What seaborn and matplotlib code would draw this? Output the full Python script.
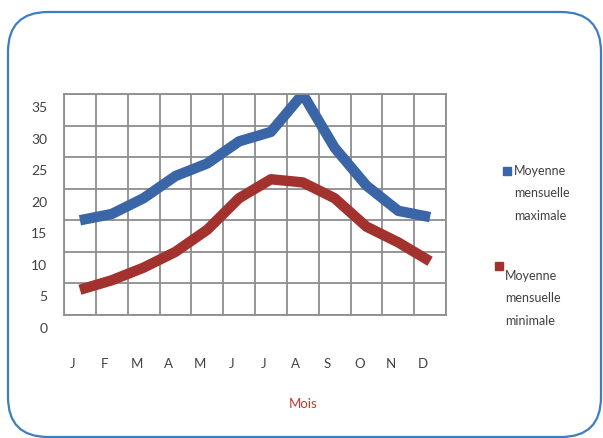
import matplotlib
matplotlib.use("Agg")
import matplotlib.pyplot as plt
from matplotlib.patches import FancyBboxPatch
from matplotlib.lines import Line2D
from matplotlib.transforms import ScaledTranslation, IdentityTransform
import seaborn as sns
import pandas as pd

# data
mois = ["J", "F", "M", "A", "M", "J", "J", "A", "S", "O", "N", "D"]
temp_max = [15, 16, 18.5, 22, 24, 27.5, 29, 35, 26.5, 20.5, 16.5, 15.5]
temp_min = [4, 5.5, 7.5, 10, 13.5, 18.5, 21.5, 21, 18.5, 14, 11.5, 8.5]
series = ["Moyenne\nmensuelle\nmaximale", "Moyenne\nmensuelle\nminimale"]
colors = ["#3A65A6", "#A3322E"]

df = pd.DataFrame({
    "pos": list(range(12)) * 2,
    "temp": temp_max + temp_min,
    "serie": [series[0]] * 12 + [series[1]] * 12,
})

sns.set_style("white")
plt.rcParams["font.family"] = ["Lato", "DejaVu Sans"]

W, H = 603, 439
fig = plt.figure(figsize=(W / 100, H / 100), dpi=100)

# rounded frame around the whole chart (pixel coords, origin bottom-left)
frame = FancyBboxPatch((8, 1), 593, 425,
                       boxstyle="round,pad=0,rounding_size=40",
                       transform=IdentityTransform(), fill=False,
                       edgecolor="#3D7DC2", linewidth=1.6)
fig.patches.append(frame)

ax = fig.add_axes([64 / W, 1 - 316 / H, 382 / W, 221 / H])

sns.lineplot(data=df, x="pos", y="temp", hue="serie", palette=colors,
             linewidth=7.5, ax=ax, legend=False, solid_joinstyle="round",
             solid_capstyle="butt")

ax.set_xlim(-0.5, 11.5)
ax.set_ylim(0, 35)
ax.set_yticks(range(0, 36, 5))
ax.set_xticks(range(12))
ax.set_xticklabels(mois)
ax.set_xticks([i - 0.5 for i in range(13)], minor=True)
ax.grid(False)
ax.grid(True, which="minor", axis="x", color="#8e8e8e", linewidth=1.3)
ax.grid(True, which="major", axis="y", color="#8e8e8e", linewidth=1.3)
ax.set_axisbelow(True)
for s in ax.spines.values():
    s.set_color("#8e8e8e")
    s.set_linewidth(1.3)

ax.tick_params(axis="x", which="major", length=0, pad=30, labelsize=9.5,
               labelcolor="#404040")
ax.tick_params(axis="x", which="minor", length=0)
ax.tick_params(axis="y", length=0, pad=12, labelsize=10, labelcolor="#404040")

# front axis of the 3D look sits a bit lower/left than the back wall
shift_y = ScaledTranslation(0, -12 / 100, fig.dpi_scale_trans)
for lab in ax.get_yticklabels():
    lab.set_transform(lab.get_transform() + shift_y)
shift_x = ScaledTranslation(-7 / 100, 0, fig.dpi_scale_trans)
for lab in ax.get_xticklabels():
    lab.set_transform(lab.get_transform() + shift_x)

ax.set_xlabel("Mois", color="#C0392B", fontsize=9.5)
ax.xaxis.set_label_coords((303 - 64) / 382, (316 - 398) / 221)
ax.set_ylabel("")

# legend drawn by hand: square marker beside the first text line
leg_pos = [(507, 172, 514, 172), (499, 267, 505, 277)]
for (mx, my, tx, ty), lab, c in zip(leg_pos, series, colors):
    fig.add_artist(Line2D([mx / W], [1 - my / H], transform=fig.transFigure,
                          marker="s", markersize=6, color=c,
                          linestyle="none"))
    fig.text(tx / W, 1 - (ty - 7) / H, lab, ha="left", va="top",
             fontsize=9, color="#404040", linespacing=2.05)

fig.savefig("out.png", dpi=100)
